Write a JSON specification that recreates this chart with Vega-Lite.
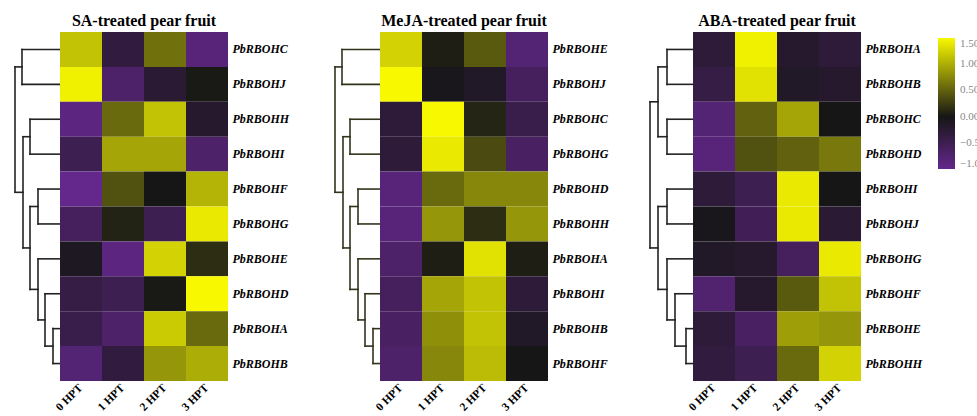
{
"$schema": "https://vega.github.io/schema/vega-lite/v6.json",
"padding": {"left": 13, "top": 13, "right": 0, "bottom": 0},
"bounds": "flush",
"spacing": 0,
"config": {
  "view": {"stroke": null},
  "font": "Liberation Serif",
  "title": {"font": "Liberation Serif", "fontSize": 16, "fontWeight": "bold", "anchor": "middle", "offset": 3, "color": "#000"},
  "axis": {"domain": false, "ticks": false, "title": null, "labelFont": "Liberation Serif", "labelColor": "#000", "labelFontWeight": "bold"}
},
"datasets": {
  "sa": [
    {"gene":"PbRBOHC","time":"0 HPT","value":1.15},{"gene":"PbRBOHC","time":"1 HPT","value":-0.35},{"gene":"PbRBOHC","time":"2 HPT","value":0.6},{"gene":"PbRBOHC","time":"3 HPT","value":-0.85},
    {"gene":"PbRBOHJ","time":"0 HPT","value":1.45},{"gene":"PbRBOHJ","time":"1 HPT","value":-0.7},{"gene":"PbRBOHJ","time":"2 HPT","value":-0.25},{"gene":"PbRBOHJ","time":"3 HPT","value":0.02},
    {"gene":"PbRBOHH","time":"0 HPT","value":-0.9},{"gene":"PbRBOHH","time":"1 HPT","value":0.55},{"gene":"PbRBOHH","time":"2 HPT","value":1.15},{"gene":"PbRBOHH","time":"3 HPT","value":-0.2},
    {"gene":"PbRBOHI","time":"0 HPT","value":-0.5},{"gene":"PbRBOHI","time":"1 HPT","value":0.95},{"gene":"PbRBOHI","time":"2 HPT","value":0.95},{"gene":"PbRBOHI","time":"3 HPT","value":-0.7},
    {"gene":"PbRBOHF","time":"0 HPT","value":-1.0},{"gene":"PbRBOHF","time":"1 HPT","value":0.4},{"gene":"PbRBOHF","time":"2 HPT","value":0.0},{"gene":"PbRBOHF","time":"3 HPT","value":1.05},
    {"gene":"PbRBOHG","time":"0 HPT","value":-0.6},{"gene":"PbRBOHG","time":"1 HPT","value":0.08},{"gene":"PbRBOHG","time":"2 HPT","value":-0.5},{"gene":"PbRBOHG","time":"3 HPT","value":1.4},
    {"gene":"PbRBOHE","time":"0 HPT","value":-0.1},{"gene":"PbRBOHE","time":"1 HPT","value":-0.9},{"gene":"PbRBOHE","time":"2 HPT","value":1.25},{"gene":"PbRBOHE","time":"3 HPT","value":0.15},
    {"gene":"PbRBOHD","time":"0 HPT","value":-0.4},{"gene":"PbRBOHD","time":"1 HPT","value":-0.5},{"gene":"PbRBOHD","time":"2 HPT","value":0.02},{"gene":"PbRBOHD","time":"3 HPT","value":1.5},
    {"gene":"PbRBOHA","time":"0 HPT","value":-0.45},{"gene":"PbRBOHA","time":"1 HPT","value":-0.7},{"gene":"PbRBOHA","time":"2 HPT","value":1.2},{"gene":"PbRBOHA","time":"3 HPT","value":0.55},
    {"gene":"PbRBOHB","time":"0 HPT","value":-0.8},{"gene":"PbRBOHB","time":"1 HPT","value":-0.35},{"gene":"PbRBOHB","time":"2 HPT","value":0.85},{"gene":"PbRBOHB","time":"3 HPT","value":1.0}
  ],
  "meja": [
    {"gene":"PbRBOHE","time":"0 HPT","value":1.25},{"gene":"PbRBOHE","time":"1 HPT","value":0.05},{"gene":"PbRBOHE","time":"2 HPT","value":0.45},{"gene":"PbRBOHE","time":"3 HPT","value":-0.8},
    {"gene":"PbRBOHJ","time":"0 HPT","value":1.5},{"gene":"PbRBOHJ","time":"1 HPT","value":-0.05},{"gene":"PbRBOHJ","time":"2 HPT","value":-0.15},{"gene":"PbRBOHJ","time":"3 HPT","value":-0.6},
    {"gene":"PbRBOHC","time":"0 HPT","value":-0.3},{"gene":"PbRBOHC","time":"1 HPT","value":1.5},{"gene":"PbRBOHC","time":"2 HPT","value":0.1},{"gene":"PbRBOHC","time":"3 HPT","value":-0.45},
    {"gene":"PbRBOHG","time":"0 HPT","value":-0.3},{"gene":"PbRBOHG","time":"1 HPT","value":1.4},{"gene":"PbRBOHG","time":"2 HPT","value":0.35},{"gene":"PbRBOHG","time":"3 HPT","value":-0.65},
    {"gene":"PbRBOHD","time":"0 HPT","value":-0.85},{"gene":"PbRBOHD","time":"1 HPT","value":0.55},{"gene":"PbRBOHD","time":"2 HPT","value":0.75},{"gene":"PbRBOHD","time":"3 HPT","value":0.75},
    {"gene":"PbRBOHH","time":"0 HPT","value":-0.85},{"gene":"PbRBOHH","time":"1 HPT","value":0.85},{"gene":"PbRBOHH","time":"2 HPT","value":0.15},{"gene":"PbRBOHH","time":"3 HPT","value":0.85},
    {"gene":"PbRBOHA","time":"0 HPT","value":-0.7},{"gene":"PbRBOHA","time":"1 HPT","value":0.05},{"gene":"PbRBOHA","time":"2 HPT","value":1.35},{"gene":"PbRBOHA","time":"3 HPT","value":0.05},
    {"gene":"PbRBOHI","time":"0 HPT","value":-0.6},{"gene":"PbRBOHI","time":"1 HPT","value":0.95},{"gene":"PbRBOHI","time":"2 HPT","value":1.15},{"gene":"PbRBOHI","time":"3 HPT","value":-0.3},
    {"gene":"PbRBOHB","time":"0 HPT","value":-0.65},{"gene":"PbRBOHB","time":"1 HPT","value":0.8},{"gene":"PbRBOHB","time":"2 HPT","value":1.15},{"gene":"PbRBOHB","time":"3 HPT","value":-0.15},
    {"gene":"PbRBOHF","time":"0 HPT","value":-0.7},{"gene":"PbRBOHF","time":"1 HPT","value":0.75},{"gene":"PbRBOHF","time":"2 HPT","value":1.1},{"gene":"PbRBOHF","time":"3 HPT","value":0.0}
  ],
  "aba": [
    {"gene":"PbRBOHA","time":"0 HPT","value":-0.3},{"gene":"PbRBOHA","time":"1 HPT","value":1.45},{"gene":"PbRBOHA","time":"2 HPT","value":-0.2},{"gene":"PbRBOHA","time":"3 HPT","value":-0.3},
    {"gene":"PbRBOHB","time":"0 HPT","value":-0.4},{"gene":"PbRBOHB","time":"1 HPT","value":1.35},{"gene":"PbRBOHB","time":"2 HPT","value":-0.15},{"gene":"PbRBOHB","time":"3 HPT","value":-0.2},
    {"gene":"PbRBOHC","time":"0 HPT","value":-0.8},{"gene":"PbRBOHC","time":"1 HPT","value":0.5},{"gene":"PbRBOHC","time":"2 HPT","value":0.95},{"gene":"PbRBOHC","time":"3 HPT","value":0.0},
    {"gene":"PbRBOHD","time":"0 HPT","value":-0.85},{"gene":"PbRBOHD","time":"1 HPT","value":0.4},{"gene":"PbRBOHD","time":"2 HPT","value":0.5},{"gene":"PbRBOHD","time":"3 HPT","value":0.65},
    {"gene":"PbRBOHI","time":"0 HPT","value":-0.3},{"gene":"PbRBOHI","time":"1 HPT","value":-0.5},{"gene":"PbRBOHI","time":"2 HPT","value":1.4},{"gene":"PbRBOHI","time":"3 HPT","value":0.0},
    {"gene":"PbRBOHJ","time":"0 HPT","value":-0.05},{"gene":"PbRBOHJ","time":"1 HPT","value":-0.55},{"gene":"PbRBOHJ","time":"2 HPT","value":1.4},{"gene":"PbRBOHJ","time":"3 HPT","value":-0.25},
    {"gene":"PbRBOHG","time":"0 HPT","value":-0.15},{"gene":"PbRBOHG","time":"1 HPT","value":-0.2},{"gene":"PbRBOHG","time":"2 HPT","value":-0.6},{"gene":"PbRBOHG","time":"3 HPT","value":1.4},
    {"gene":"PbRBOHF","time":"0 HPT","value":-0.75},{"gene":"PbRBOHF","time":"1 HPT","value":-0.2},{"gene":"PbRBOHF","time":"2 HPT","value":0.45},{"gene":"PbRBOHF","time":"3 HPT","value":1.15},
    {"gene":"PbRBOHE","time":"0 HPT","value":-0.3},{"gene":"PbRBOHE","time":"1 HPT","value":-0.65},{"gene":"PbRBOHE","time":"2 HPT","value":0.9},{"gene":"PbRBOHE","time":"3 HPT","value":0.85},
    {"gene":"PbRBOHH","time":"0 HPT","value":-0.35},{"gene":"PbRBOHH","time":"1 HPT","value":-0.5},{"gene":"PbRBOHH","time":"2 HPT","value":0.55},{"gene":"PbRBOHH","time":"3 HPT","value":1.25}
  ],
  "dend1": [
    {"h1":0,"h2":38,"r1":0,"r2":0},{"h1":0,"h2":38,"r1":1,"r2":1},{"h1":38,"h2":38,"r1":0,"r2":1},
    {"h1":0,"h2":30,"r1":2,"r2":2},{"h1":0,"h2":30,"r1":3,"r2":3},{"h1":30,"h2":30,"r1":2,"r2":3},
    {"h1":0,"h2":22,"r1":4,"r2":4},{"h1":0,"h2":22,"r1":5,"r2":5},{"h1":22,"h2":22,"r1":4,"r2":5},
    {"h1":0,"h2":7,"r1":8,"r2":8},{"h1":0,"h2":7,"r1":9,"r2":9},{"h1":7,"h2":7,"r1":8,"r2":9},
    {"h1":0,"h2":15,"r1":7,"r2":7},{"h1":7,"h2":15,"r1":8.5,"r2":8.5},{"h1":15,"h2":15,"r1":7,"r2":8.5},
    {"h1":0,"h2":22,"r1":6,"r2":6},{"h1":15,"h2":22,"r1":7.75,"r2":7.75},{"h1":22,"h2":22,"r1":6,"r2":7.75},
    {"h1":22,"h2":30,"r1":4.5,"r2":4.5},{"h1":22,"h2":30,"r1":6.875,"r2":6.875},{"h1":30,"h2":30,"r1":4.5,"r2":6.875},
    {"h1":30,"h2":37,"r1":2.5,"r2":2.5},{"h1":30,"h2":37,"r1":5.6875,"r2":5.6875},{"h1":37,"h2":37,"r1":2.5,"r2":5.6875},
    {"h1":38,"h2":45,"r1":0.5,"r2":0.5},{"h1":37,"h2":45,"r1":4.09375,"r2":4.09375},{"h1":45,"h2":45,"r1":0.5,"r2":4.09375}
  ],
  "dend2": [
    {"h1":0,"h2":26,"r1":0,"r2":0},{"h1":0,"h2":26,"r1":1,"r2":1},{"h1":26,"h2":26,"r1":0,"r2":1},
    {"h1":0,"h2":26,"r1":2,"r2":2},{"h1":0,"h2":26,"r1":3,"r2":3},{"h1":26,"h2":26,"r1":2,"r2":3},
    {"h1":26,"h2":35,"r1":0.5,"r2":0.5},{"h1":26,"h2":35,"r1":2.5,"r2":2.5},{"h1":35,"h2":35,"r1":0.5,"r2":2.5},
    {"h1":0,"h2":26,"r1":4,"r2":4},{"h1":0,"h2":26,"r1":5,"r2":5},{"h1":26,"h2":26,"r1":4,"r2":5},
    {"h1":0,"h2":7,"r1":8,"r2":8},{"h1":0,"h2":7,"r1":9,"r2":9},{"h1":7,"h2":7,"r1":8,"r2":9},
    {"h1":0,"h2":18,"r1":7,"r2":7},{"h1":7,"h2":18,"r1":8.5,"r2":8.5},{"h1":18,"h2":18,"r1":7,"r2":8.5},
    {"h1":0,"h2":26,"r1":6,"r2":6},{"h1":18,"h2":26,"r1":7.75,"r2":7.75},{"h1":26,"h2":26,"r1":6,"r2":7.75},
    {"h1":26,"h2":35,"r1":4.5,"r2":4.5},{"h1":26,"h2":35,"r1":6.875,"r2":6.875},{"h1":35,"h2":35,"r1":4.5,"r2":6.875},
    {"h1":35,"h2":43,"r1":1.5,"r2":1.5},{"h1":35,"h2":43,"r1":5.6875,"r2":5.6875},{"h1":43,"h2":43,"r1":1.5,"r2":5.6875}
  ]
},
"hconcat": [
  {
    "width": 46, "height": 349,
    "data": {"name": "dend1"},
    "mark": {"type": "rule", "stroke": "#222222", "strokeWidth": 1.6, "strokeCap": "square"},
    "encoding": {
      "x": {"field": "h1", "type": "quantitative", "scale": {"domain": [0, 46], "reverse": true, "nice": false, "zero": false}, "axis": null},
      "x2": {"field": "h2"},
      "y": {"field": "r1", "type": "quantitative", "scale": {"domain": [-0.5, 9.5], "reverse": true, "nice": false, "zero": false}, "axis": null},
      "y2": {"field": "r2"}
    }
  },
  {
    "width": 168, "height": 349,
    "title": {"text": "SA-treated pear fruit"},
    "data": {"name": "sa"},
    "mark": {"type": "rect"},
    "encoding": {
      "x": {"field": "time", "type": "nominal", "sort": ["0 HPT", "1 HPT", "2 HPT", "3 HPT"], "scale": {"paddingInner": 0, "paddingOuter": 0}, "axis": {"orient": "bottom", "labelAngle": -45, "labelAlign": "right", "labelBaseline": "middle", "labelFontSize": 11.5, "labelPadding": 5}},
      "y": {"field": "gene", "type": "nominal", "sort": null, "scale": {"paddingInner": 0, "paddingOuter": 0}, "axis": {"orient": "right", "labelFontSize": 12, "labelFontStyle": "italic", "labelPadding": 4}},
      "color": {"field": "value", "type": "quantitative", "scale": {"domain": [-1, 0, 1.5], "range": ["#64278b", "#161616", "#f8f800"], "interpolate": "rgb"},
        "legend": {"orient": "none", "legendX": 924, "legendY": 6, "direction": "vertical", "gradientLength": 131, "gradientThickness": 17, "title": null, "values": [1.5, 1, 0.5, 0, -0.5, -1], "format": ".2f", "labelFont": "Liberation Serif", "labelFontSize": 11, "labelColor": "#888888", "labelOffset": 5, "gradientStrokeWidth": 0}}
    }
  },
  {
    "width": 152, "height": 349,
    "data": {"name": "dend1"},
    "mark": {"type": "rule", "stroke": "#33331c", "strokeWidth": 1.6, "strokeCap": "square"},
    "encoding": {
      "x": {"field": "h1", "type": "quantitative", "scale": {"domain": [0, 152], "reverse": true, "nice": false, "zero": false}, "axis": null},
      "x2": {"field": "h2"},
      "y": {"field": "r1", "type": "quantitative", "scale": {"domain": [-0.5, 9.5], "reverse": true, "nice": false, "zero": false}, "axis": null},
      "y2": {"field": "r2"}
    }
  },
  {
    "width": 168, "height": 349,
    "title": {"text": "MeJA-treated pear fruit"},
    "data": {"name": "meja"},
    "mark": {"type": "rect"},
    "encoding": {
      "x": {"field": "time", "type": "nominal", "sort": ["0 HPT", "1 HPT", "2 HPT", "3 HPT"], "scale": {"paddingInner": 0, "paddingOuter": 0}, "axis": {"orient": "bottom", "labelAngle": -45, "labelAlign": "right", "labelBaseline": "middle", "labelFontSize": 11.5, "labelPadding": 5}},
      "y": {"field": "gene", "type": "nominal", "sort": null, "scale": {"paddingInner": 0, "paddingOuter": 0}, "axis": {"orient": "right", "labelFontSize": 12, "labelFontStyle": "italic", "labelPadding": 4}},
      "color": {"field": "value", "type": "quantitative"}
    }
  },
  {
    "width": 145, "height": 349,
    "data": {"name": "dend2"},
    "mark": {"type": "rule", "stroke": "#222222", "strokeWidth": 1.6, "strokeCap": "square"},
    "encoding": {
      "x": {"field": "h1", "type": "quantitative", "scale": {"domain": [0, 145], "reverse": true, "nice": false, "zero": false}, "axis": null},
      "x2": {"field": "h2"},
      "y": {"field": "r1", "type": "quantitative", "scale": {"domain": [-0.5, 9.5], "reverse": true, "nice": false, "zero": false}, "axis": null},
      "y2": {"field": "r2"}
    }
  },
  {
    "width": 168, "height": 349,
    "title": {"text": "ABA-treated pear fruit"},
    "data": {"name": "aba"},
    "mark": {"type": "rect"},
    "encoding": {
      "x": {"field": "time", "type": "nominal", "sort": ["0 HPT", "1 HPT", "2 HPT", "3 HPT"], "scale": {"paddingInner": 0, "paddingOuter": 0}, "axis": {"orient": "bottom", "labelAngle": -45, "labelAlign": "right", "labelBaseline": "middle", "labelFontSize": 11.5, "labelPadding": 5}},
      "y": {"field": "gene", "type": "nominal", "sort": null, "scale": {"paddingInner": 0, "paddingOuter": 0}, "axis": {"orient": "right", "labelFontSize": 12, "labelFontStyle": "italic", "labelPadding": 4}},
      "color": {"field": "value", "type": "quantitative"}
    }
  }
],
"resolve": {"scale": {"color": "shared"}}
}
